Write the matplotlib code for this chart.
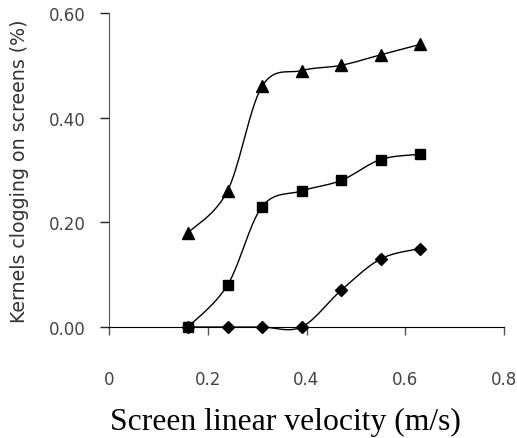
import numpy as np
import matplotlib
matplotlib.use("Agg")
import matplotlib.pyplot as plt

# ------------------------------
# Data
# ------------------------------
velocity = [0.16, 0.24, 0.31, 0.39, 0.47, 0.55, 0.63]
clog_triangle = [0.18, 0.26, 0.46, 0.49, 0.50, 0.52, 0.54]
clog_square = [0.00, 0.08, 0.23, 0.26, 0.28, 0.32, 0.33]
clog_diamond = [0.00, 0.00, 0.00, 0.00, 0.07, 0.13, 0.15]

x_ticks = [0, 0.2, 0.4, 0.6, 0.8]
x_tick_labels = ["0", "0.2", "0.4", "0.6", "0.8"]
y_ticks = [0.0, 0.2, 0.4, 0.6]
y_tick_labels = ["0.00", "0.20", "0.40", "0.60"]


def smooth(x, y, n=30):
    # Catmull-Rom / Bezier smoothing as in spreadsheet "smoothed line"
    x = np.asarray(x, float)
    y = np.asarray(y, float)
    px = np.concatenate([[x[0]], x, [x[-1]]])
    py = np.concatenate([[y[0]], y, [y[-1]]])
    xs, ys = [], []
    t = np.linspace(0, 1, n)
    for i in range(1, len(px) - 2):
        p0 = np.array([px[i], py[i]])
        p3 = np.array([px[i + 1], py[i + 1]])
        p1 = p0 + (np.array([px[i + 1], py[i + 1]]) - np.array([px[i - 1], py[i - 1]])) / 6
        p2 = p3 - (np.array([px[i + 2], py[i + 2]]) - np.array([px[i], py[i]])) / 6
        b = ((1 - t) ** 3)[:, None] * p0 + (3 * (1 - t) ** 2 * t)[:, None] * p1 \
            + (3 * (1 - t) * t ** 2)[:, None] * p2 + (t ** 3)[:, None] * p3
        xs.extend(b[:, 0])
        ys.extend(b[:, 1])
    return xs, ys


fig = plt.figure(figsize=(5.17, 4.39), dpi=100)
ax = fig.add_axes([109 / 517, 111 / 439, 395 / 517, 314 / 439])

for vals, mk, ms in [(clog_triangle, "^", 8.5), (clog_square, "s", 7.5), (clog_diamond, "D", 6)]:
    sx, sy = smooth(velocity, vals)
    ax.plot(sx, sy, color="black", linewidth=1.0, clip_on=False)
    ax.plot(velocity, vals, linestyle="none", marker=mk, markersize=ms,
            color="black", clip_on=False, zorder=3)

ax.set_xlim(0, 0.8)
ax.set_ylim(0, 0.6)
ax.set_xticks(x_ticks)
ax.set_xticklabels(x_tick_labels)
ax.set_yticks(y_ticks)
ax.set_yticklabels(y_tick_labels)

ax.spines["top"].set_visible(False)
ax.spines["right"].set_visible(False)
ax.spines["left"].set_color("#555555")
ax.spines["bottom"].set_color("black")
ax.tick_params(axis="x", direction="out", length=6, width=1, pad=25,
               labelsize=12, labelcolor="#444444", color="#555555")
ax.tick_params(axis="y", direction="out", length=6.5, width=1, pad=10,
               labelsize=12, labelcolor="#444444", color="#222222")

fig.text(20 / 517, (439 - 171) / 439, "Kernels clogging on screens (%)",
         rotation=90, ha="center", va="center", fontsize=13.7, color="#333333")
fig.text(285 / 517, (439 - 430) / 439, "Screen linear velocity (m/s)",
         family="Liberation Serif", fontsize=22.8, ha="center", va="baseline")

fig.savefig("out.png", dpi=100)
